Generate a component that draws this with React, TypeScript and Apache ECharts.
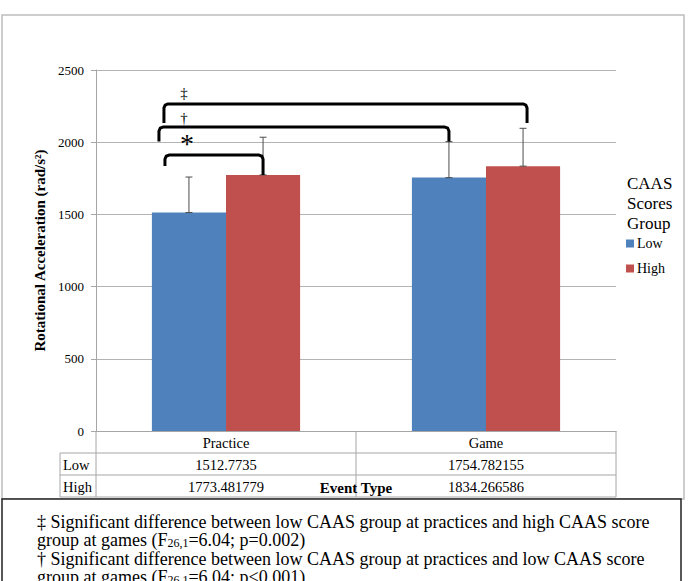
import React, { useEffect, useRef } from "react";
import * as echarts from "echarts";

// Event types on the x axis and CAAS score groups
const categories = ["Practice", "Game"];
const groupNames = ["Low", "High"];

// Mean rotational acceleration (rad/s²) per group
const lowValues = [1512.7735, 1754.782155];
const highValues = [1773.481779, 1834.266586];

// Upper error bar extents (rad/s²)
const lowErrors = [246, 249];
const highErrors = [261, 262];

// Value axis ticks
const yMin = 0;
const yMax = 2500;
const yInterval = 500;

// Significance brackets: [category, group] endpoints, heights in rad/s²
const brackets = [
  { symbol: "*", from: [0, 0], to: [0, 1], top: 1911, leftEnd: 1835, rightEnd: 1773, symbolAt: 2036 },
  { symbol: "†", from: [0, 0], to: [1, 0], top: 2105, leftEnd: 2005, rightEnd: 2005, symbolAt: 2168 },
  { symbol: "‡", from: [0, 0], to: [1, 1], top: 2265, leftEnd: 2133, rightEnd: 2133, symbolAt: 2341 },
];

// Footnote lines
const noteLines = [
  "‡ Significant difference between low CAAS group at practices and high CAAS score",
  "group at games (F{sub|26,1}=6.04; p=0.002)",
  "† Significant difference between low CAAS group at practices and low CAAS score",
  "group at games (F{sub|26,1}=6.04; p<0.001)",
];

const FONT = "Liberation Serif";
const BLUE = "#4F81BD";
const RED = "#C0504D";
const GRID = { left: 96, top: 70, right: 616, bottom: 431 };
const CAT_GAP = 0.43;
// bracket leg horizontal shifts relative to bar centres (px)
const bracketShift = [
  { l: -24, r: 0 },
  { l: -30, r: 0 },
  { l: -25, r: 4 },
];

export default function App() {
  const ref = useRef<HTMLDivElement>(null);

  useEffect(() => {
    const chart = echarts.init(ref.current!, null, { renderer: "svg" });
    const groups = [lowValues, highValues];
    const errs = [lowErrors, highErrors];
    const errorData: number[][] = [];
    groups.forEach((vals, g) =>
      vals.forEach((v, c) => errorData.push([c, v, errs[g][c], g]))
    );

    chart.setOption({
      animation: false,
      textStyle: { fontFamily: FONT },
      grid: {
        left: GRID.left,
        top: GRID.top,
        width: GRID.right - GRID.left,
        height: GRID.bottom - GRID.top,
      },
      legend: {
        data: groupNames,
        orient: "vertical",
        left: 621,
        top: 231,
        icon: "rect",
        itemWidth: 8,
        itemHeight: 8,
        itemGap: 10,
        itemStyle: { borderWidth: 0 },
        textStyle: { fontFamily: FONT, fontSize: 14, color: "#000", lineHeight: 15, padding: [0, 0, 0, -2] },
      },
      xAxis: {
        type: "category",
        data: categories,
        axisLine: { lineStyle: { color: "#a6a6a6", width: 1 } },
        axisTick: { show: false },
        axisLabel: { show: false },
        splitLine: { show: false },
      },
      yAxis: {
        type: "value",
        min: yMin,
        max: yMax,
        interval: yInterval,
        name: "Rotational Acceleration (rad/s²)",
        nameLocation: "middle",
        nameRotate: 90,
        nameGap: 48,
        nameTextStyle: { fontFamily: FONT, fontSize: 15, fontWeight: "bold", color: "#000" },
        axisLine: { show: true, lineStyle: { color: "#a6a6a6" } },
        axisTick: { show: true, length: 5, lineStyle: { color: "#a6a6a6" } },
        axisLabel: {
          fontFamily: FONT,
          fontSize: 13,
          color: "#000",
          margin: 12,
          formatter: (v: number) => String(v),
        },
        splitLine: { lineStyle: { color: "#b3b3b3", width: 1 } },
      },
      series: [
        {
          type: "bar",
          name: groupNames[0],
          data: lowValues,
          itemStyle: { color: BLUE },
          barGap: "0%",
          barCategoryGap: CAT_GAP * 100 + "%",
        },
        {
          type: "bar",
          name: groupNames[1],
          data: highValues,
          itemStyle: { color: RED },
          barGap: "0%",
          barCategoryGap: CAT_GAP * 100 + "%",
        },
        {
          type: "custom",
          name: "error",
          data: errorData,
          encode: { x: 0, y: 1 },
          z: 5,
          renderItem: (params: any, api: any) => {
            const c = api.value(0);
            const v = api.value(1);
            const e = api.value(2);
            const g = api.value(3);
            const band = api.size([1, 0])[0];
            const barW = (band * (1 - CAT_GAP)) / 2;
            const base = api.coord([c, v]);
            const top = api.coord([c, v + e]);
            const x = base[0] + (g === 0 ? -barW / 2 : barW / 2);
            const st = { stroke: "#4d4d4d", lineWidth: 1 };
            return {
              type: "group",
              children: [
                { type: "line", shape: { x1: x, y1: base[1], x2: x, y2: top[1] }, style: st },
                { type: "line", shape: { x1: x - 3.5, y1: top[1], x2: x + 3.5, y2: top[1] }, style: st },
                { type: "line", shape: { x1: x - 3.5, y1: base[1], x2: x + 3.5, y2: base[1] }, style: st },
              ],
            };
          },
        },
      ],
    });

    // Pixel helpers from the chart's own scales
    const band = (GRID.right - GRID.left) / categories.length;
    const barW = (band * (1 - CAT_GAP)) / 2;
    const barX = (c: number, g: number) => {
      const p = chart.convertToPixel({ xAxisIndex: 0, yAxisIndex: 0 }, [c, 0]) as number[];
      return p[0] + (g === 0 ? -barW / 2 : barW / 2);
    };
    const yPx = (v: number) =>
      (chart.convertToPixel({ xAxisIndex: 0, yAxisIndex: 0 }, [0, v]) as number[])[1];

    const graphics: any[] = [];

    // Chart frame
    graphics.push({
      type: "rect",
      shape: { x: 2, y: 15, width: 682, height: 484 },
      style: { fill: "none", stroke: "#bdbdbd", lineWidth: 1.5 },
      z: 0,
    });

    // Legend title
    graphics.push({
      type: "text",
      x: 627,
      y: 173,
      style: {
        text: "CAAS\nScores\nGroup",
        fontFamily: FONT,
        fontSize: 17,
        lineHeight: 20,
        fill: "#000",
      },
    });

    // Significance brackets and symbols
    brackets.forEach((b, i) => {
      const lx = barX(b.from[0], b.from[1]) + bracketShift[i].l;
      const rx = barX(b.to[0], b.to[1]) + bracketShift[i].r;
      const ty = yPx(b.top);
      const r = 4;
      graphics.push({
        type: "polyline",
        shape: {
          points: [
            [lx, yPx(b.leftEnd)],
            [lx, ty + r],
            [lx + r * 0.3, ty + r * 0.3],
            [lx + r, ty],
            [rx - r, ty],
            [rx - r * 0.3, ty + r * 0.3],
            [rx, ty + r],
            [rx, yPx(b.rightEnd)],
          ],
        },
        style: { stroke: "#000", lineWidth: 3, fill: "none", lineJoin: "round", lineCap: "butt" },
        z: 10,
      });
      const isStar = b.symbol === "*";
      const sx = barX(0, 0) - (isStar ? 2 : 5);
      graphics.push({
        type: "text",
        x: sx,
        y: yPx(b.symbolAt) + (isStar ? 6 : 0),
        style: {
          text: b.symbol,
          fontFamily: FONT,
          fontSize: isStar ? 28 : 15,
          fill: "#000",
          align: "center",
          verticalAlign: "middle",
        },
        z: 10,
      });
    });

    // Data table under the plot
    const rowH = 22;
    const headerBottom = GRID.bottom + rowH;
    const tableBottom = headerBottom + 2 * rowH;
    const labelLeft = 60;
    const lineSt = { stroke: "#a6a6a6", lineWidth: 1 };
    const hLine = (x1: number, y: number, x2: number) => ({
      type: "line",
      shape: { x1, y1: y, x2, y2: y },
      style: lineSt,
    });
    const vLine = (x: number, y1: number, y2: number) => ({
      type: "line",
      shape: { x1: x, y1, x2: x, y2 },
      style: lineSt,
    });
    graphics.push(hLine(labelLeft, headerBottom, GRID.right));
    graphics.push(hLine(labelLeft, headerBottom + rowH, GRID.right));
    graphics.push(hLine(labelLeft, tableBottom, GRID.right));
    graphics.push(vLine(labelLeft, headerBottom, tableBottom));
    for (let c = 0; c <= categories.length; c++) {
      graphics.push(vLine(GRID.left + c * band, GRID.bottom, tableBottom));
    }
    const cellText = (t: string, x: number, y: number, align = "center", bold = false, size = 14.5) => ({
      type: "text",
      x,
      y,
      style: {
        text: t,
        fontFamily: FONT,
        fontSize: size,
        fontWeight: bold ? "bold" : "normal",
        fill: "#000",
        align,
        verticalAlign: "middle",
      },
      z: 3,
    });
    categories.forEach((name, c) => {
      const cx = GRID.left + (c + 0.5) * band;
      graphics.push(cellText(name, cx, GRID.bottom + rowH / 2 + 1));
      groups.forEach((vals, g) => {
        graphics.push(cellText(String(vals[c]), cx, headerBottom + g * rowH + rowH / 2 + 1));
      });
    });
    groupNames.forEach((n, g) => {
      graphics.push(cellText(n, labelLeft + 3, headerBottom + g * rowH + rowH / 2 + 1, "left"));
    });
    graphics.push({
      ...cellText("Event Type", GRID.left + band, tableBottom - 9, "center", true, 15),
      z: 4,
    });

    // Footnote box
    graphics.push({
      type: "rect",
      shape: { x: 2, y: 499, width: 679, height: 120 },
      style: { fill: "#fff", stroke: "#222", lineWidth: 1.5 },
      z: 20,
    });
    noteLines.forEach((t, i) => {
      graphics.push({
        type: "text",
        x: 37,
        y: 521.5 + i * 18.6,
        style: {
          text: t,
          fontFamily: FONT,
          fontSize: 18,
          fill: "#000",
          verticalAlign: "middle",
          rich: {
            sub: { fontFamily: FONT, fontSize: 12, fill: "#000", verticalAlign: "bottom", padding: [6, 0, 0, 0] },
          },
        },
        z: 21,
      });
    });

    chart.setOption({ graphic: graphics });

    return () => chart.dispose();
  }, []);

  return (
    <div
      ref={ref}
      style={{ position: "fixed", left: 0, top: 0, width: 693, height: 581, background: "#fff", overflow: "hidden" }}
    />
  );
}
